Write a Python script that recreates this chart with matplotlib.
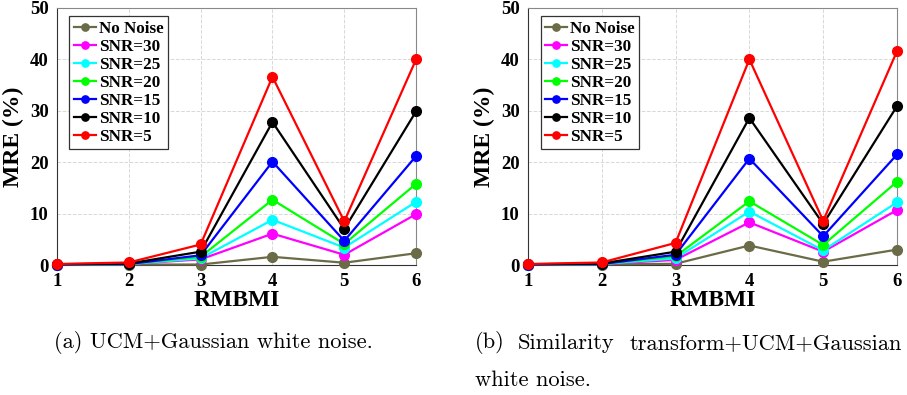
import numpy as np
import matplotlib.pyplot as plt

plt.rcParams['font.family'] = ['Liberation Serif', 'DejaVu Serif']

rmbmi = [1, 2, 3, 4, 5, 6]
labels = ['No Noise', 'SNR=30', 'SNR=25', 'SNR=20', 'SNR=15', 'SNR=10', 'SNR=5']
colors = ['#6b6b47', '#ff00ff', '#00ffff', '#00ff00', '#0000ff', '#000000', '#ff0000']

# (a) UCM + Gaussian white noise
mre_a = [
    [0.05, 0.1, 0.1, 1.6, 0.45, 2.3],
    [0.1, 0.2, 1.1, 6.1, 2.0, 9.9],
    [0.1, 0.2, 1.3, 8.8, 3.4, 12.3],
    [0.1, 0.2, 1.6, 12.7, 4.1, 15.8],
    [0.1, 0.2, 1.9, 20.1, 4.7, 21.2],
    [0.15, 0.3, 2.6, 27.8, 7.0, 29.9],
    [0.2, 0.5, 4.0, 36.6, 8.5, 40.0],
]
# (b) Similarity transform + UCM + Gaussian white noise
mre_b = [
    [0.05, 0.1, 0.25, 3.8, 0.65, 3.0],
    [0.1, 0.2, 1.0, 8.3, 2.6, 10.7],
    [0.1, 0.2, 1.3, 10.4, 2.85, 12.2],
    [0.1, 0.2, 1.7, 12.4, 3.9, 16.2],
    [0.1, 0.2, 2.0, 20.7, 5.6, 21.5],
    [0.15, 0.3, 2.6, 28.6, 8.0, 30.9],
    [0.2, 0.5, 4.3, 40.0, 8.6, 41.6],
]

fig = plt.figure(figsize=(9.07, 3.95), dpi=100)
ax_a = fig.add_axes([0.0628, 0.329, 0.396, 0.651])
ax_b = fig.add_axes([0.582, 0.329, 0.407, 0.651])

for ax, data in [(ax_a, mre_a), (ax_b, mre_b)]:
    for vals, lab, c in zip(data, labels, colors):
        ax.plot(rmbmi, vals, '-o', color=c, label=lab, lw=1.6, ms=7, clip_on=False, zorder=3)
    ax.set_xlim(1, 6)
    ax.set_ylim(0, 50)
    ax.set_xticks(rmbmi)
    ax.set_yticks([0, 10, 20, 30, 40, 50])
    ax.grid(True, ls='--', color='#d8d8d8', lw=0.7)
    ax.tick_params(length=0, labelsize=13.5, pad=6)
    for t in ax.get_xticklabels() + ax.get_yticklabels():
        t.set_fontweight('bold')
    for s in ['top', 'right']:
        ax.spines[s].set_color('#888888')
    for s in ['left', 'bottom']:
        ax.spines[s].set_color('#333333')
    ax.set_xlabel('RMBMI', fontsize=17, fontweight='bold', labelpad=0)
    ax.set_ylabel('MRE (%)', fontsize=17, fontweight='bold', labelpad=4)
    leg = ax.legend(loc='upper left', bbox_to_anchor=(0.025, 0.98), prop={'weight': 'bold', 'size': 12.3},
                    handlelength=1.3, handletextpad=0.2, labelspacing=0.12, borderpad=0.25,
                    borderaxespad=0.2, fancybox=False, framealpha=1, markerscale=0.75)
    leg.get_frame().set_edgecolor('#333333')
    leg.get_frame().set_linewidth(0.9)

# captions (LaTeX-like, justified second caption)
cap = dict(fontsize=16.2, family='cmr10', va='center')
fig.text(54 / 907, 0.132, '(a) UCM+Gaussian white noise.', **cap)
fig.text(475 / 907, 0.132, '(b)', **cap)
fig.text(518 / 907, 0.132, 'Similarity', **cap)
fig.text(902 / 907, 0.132, 'transform+UCM+Gaussian', ha='right', **cap)
fig.text(475 / 907, 0.038, 'white noise.', **cap)

fig.savefig('out.png', dpi=100)
